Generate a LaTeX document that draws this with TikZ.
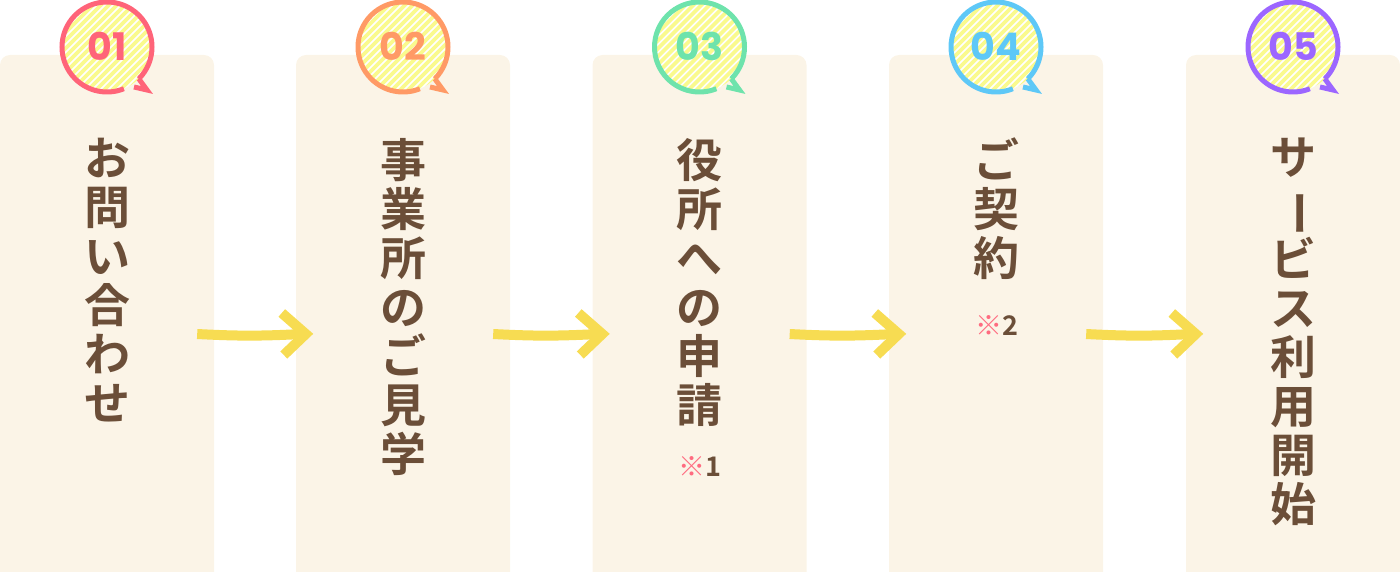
\documentclass[tikz,border=0pt]{standalone}
\usepackage{fontspec}
\usepackage{graphicx}
\newfontfamily\jp{Noto Sans CJK JP Bold}
\newfontfamily\jpnote{Noto Sans CJK JP}
\newfontfamily\numfont{Poppins Bold}
\usetikzlibrary{positioning,calc}
\definecolor{boxbg}{HTML}{FBF4E7}
\definecolor{txtbrown}{HTML}{6B4E38}
\definecolor{stripe}{HTML}{FAFA8E}
\definecolor{arrowyel}{HTML}{F7DC52}
\definecolor{markred}{HTML}{FF6B80}
\definecolor{cA}{HTML}{FF6479}
\definecolor{cB}{HTML}{FF9A66}
\definecolor{cC}{HTML}{6EE3AC}
\definecolor{cD}{HTML}{5EC8F7}
\definecolor{cE}{HTML}{9C66FF}
\begin{document}
\begin{tikzpicture}[x=1pt,y=1pt,
  box/.style={fill=boxbg, rounded corners=10pt, minimum width=214pt, minimum height=530pt, inner sep=0pt},
  vtext/.style={anchor=north, align=center, inner sep=0pt, text=txtbrown, font=\jp\fontsize{46}{49}\selectfont},
  note/.style={inner sep=0pt, text=txtbrown, font=\jpnote\fontsize{27}{27}\selectfont},
  flow/.style={draw=arrowyel, line width=10pt},
  ring/.style={line width=5pt}]
\useasboundingbox (0,0) rectangle (1400,571);
\clip (0,0) rectangle (1400,571);
% boxes
\node[box] (b1) at (107,251){};
\node[box] (b2) at (403,251){};
\node[box] (b3) at (699.5,251){};
\node[box] (b4) at (996,251){};
\node[box] (b5) at (1293,251){};
% badges
\foreach \x/\c/\n [count=\i] in {107/cA/01, 403/cB/02, 699.5/cC/03, 996/cD/04, 1293/cE/05}{
  \begin{scope}
    \clip (\x,524) circle (45);
    \fill[white] (\x,524) circle (45);
    \foreach \d in {-128,-120,...,128}
      \draw[stripe, line width=3.8pt] (\x+\d-60,464) -- (\x+\d+60,584);
  \end{scope}
  \draw[\c, ring] (\x,524) ++(-45:45) arc[start angle=-45, end angle=292, radius=45];
  \draw[\c, ring, line join=miter] ($(\x,524)+(27,-40)$) -- ($(\x,524)+(40,-43)$) -- ($(\x,524)+(-45:45)$);
  \node[text=\c, font=\numfont\fontsize{38}{38}\selectfont] (num\i) at (\x,525) {\n};
}
% texts
\node[vtext] (txt1) at (107,433) {お\\問\\い\\合\\わ\\せ};
\node[vtext] (txt2) at (403,433) {事\\業\\所\\の\\ご\\見\\学};
\node[vtext] (txt3) at (699.5,433) {役\\所\\へ\\の\\申\\請};
\node[vtext] (txt4) at (996,433) {ご\\契\\約};
\node[vtext] (txt5) at (1293,433) {サ\\\rotatebox[origin=c]{-90}{ー}\\ビ\\ス\\利\\用\\開\\始};
\node[note] (note3) at (700,104) {\textcolor{markred}{※}{\jp 1}};
\node[note] (note4) at (997,245) {\textcolor{markred}{※}{\jp 2}};
% arrows
\coordinate (s1) at ([shift={(-17,-14)}]b1.east);
\coordinate (t1) at ([shift={(10,-14)}]b2.west);
\coordinate (s2) at ([shift={(-17,-14)}]b2.east);
\coordinate (t2) at ([shift={(10,-14)}]b3.west);
\coordinate (s3) at ([shift={(-17,-14)}]b3.east);
\coordinate (t3) at ([shift={(10,-14)}]b4.west);
\coordinate (s4) at ([shift={(-17,-14)}]b4.east);
\coordinate (t4) at ([shift={(10,-14)}]b5.west);
\draw[flow] (s1) to[bend right=3] ($(t1)+(-4,0)$);
\draw[flow] ($(t1)+(-24,21)$) -- (t1) -- ($(t1)+(-22,-21)$);
\draw[flow] (s2) to[bend right=3] ($(t2)+(-4,0)$);
\draw[flow] ($(t2)+(-24,21)$) -- (t2) -- ($(t2)+(-22,-21)$);
\draw[flow] (s3) to[bend right=3] ($(t3)+(-4,0)$);
\draw[flow] ($(t3)+(-24,21)$) -- (t3) -- ($(t3)+(-22,-21)$);
\draw[flow] (s4) to[bend right=3] ($(t4)+(-4,0)$);
\draw[flow] ($(t4)+(-24,21)$) -- (t4) -- ($(t4)+(-22,-21)$);
\end{tikzpicture}
\end{document}
